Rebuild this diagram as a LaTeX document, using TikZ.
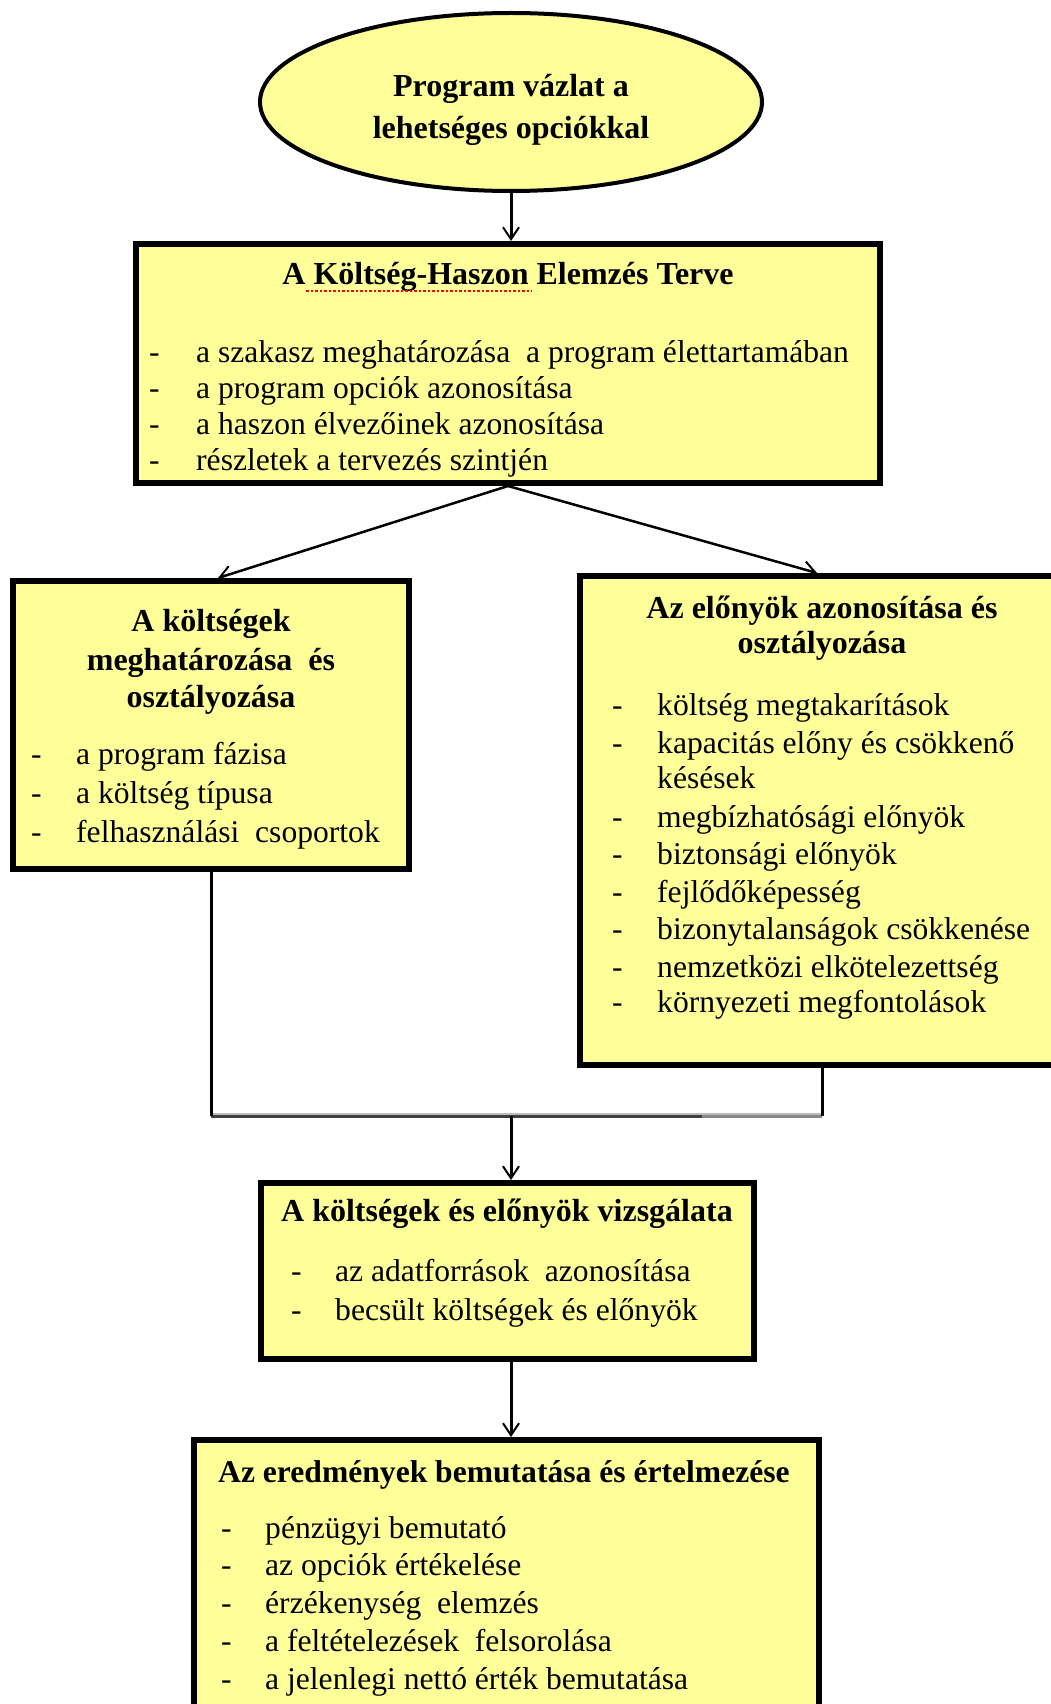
\documentclass[tikz,border=0pt]{standalone}
\usepackage{fontspec}
\setmainfont{Liberation Serif}
\usetikzlibrary{arrows.meta,shapes.geometric}
\definecolor{boxyellow}{HTML}{FFFF99}
\definecolor{lineshade}{HTML}{404040}
\definecolor{linelight}{HTML}{888888}
\definecolor{lineshadow}{HTML}{BBBBBB}
\begin{document}
\begin{tikzpicture}[x=1pt,y=-1pt,
  boxstyle/.style={draw=black, line width=6pt, fill=boxyellow, rectangle, inner sep=0pt},
  ellstyle/.style={draw=black, line width=4pt, fill=boxyellow, ellipse, inner sep=0pt},
  txt/.style={anchor=base west, inner sep=0pt, font=\fontsize{31.6}{36}\selectfont},
  ttl/.style={anchor=base, inner sep=0pt, font=\fontsize{32}{36}\selectfont\bfseries},
  ttlw/.style={anchor=base west, inner sep=0pt, font=\fontsize{32}{36}\selectfont\bfseries},
  conn/.style={line width=3pt, draw=black},
  arr/.style={conn, -{Straight Barb[length=12pt,width=16pt,line width=2pt]}},
]
\clip (0,0) rectangle (1051,1704);
\fill[white] (0,0) rectangle (1051,1704);

% shapes
\node[ellstyle, minimum width=502pt, minimum height=178pt] (ell) at (511,102) {};
\node[boxstyle, minimum width=744pt, minimum height=239pt] (b1) at (508,363.5) {};
\node[boxstyle, minimum width=396pt, minimum height=288pt] (lb) at (211,725) {};
\node[boxstyle, minimum width=484pt, minimum height=489pt] (rb) at (822,820.5) {};
\node[boxstyle, minimum width=493pt, minimum height=176pt] (b4) at (507.5,1271) {};
\node[boxstyle, minimum width=625pt, minimum height=288pt] (b5) at (506.5,1584) {};

% connectors
\coordinate (jn) at (511,1116);
\coordinate (jm) at (702,1116);
\draw[arr] (ell.south) -- (ell.south |- b1.north);
\draw[arr, line width=2.5pt] (b1.south) -- ([xshift=7pt]lb.north);
\draw[arr, line width=2.5pt] (b1.south) -- ([xshift=-5pt]rb.north);
\draw[line width=2pt, lineshadow] ([yshift=2.5pt]lb.south |- jn) -- ([yshift=2.5pt]rb.south |- jn);
\draw[line width=3pt, lineshade] (lb.south |- jn) -- (jm);
\draw[line width=3pt, linelight] (jm) -- (rb.south |- jn);
\draw[conn] (lb.south) -- (lb.south |- jn);
\draw[conn] (rb.south) -- (rb.south |- jn);
\draw[arr] (jn) -- (jn |- b4.north);
\draw[arr] (b4.south -| jn) -- (jn |- b5.north);

% ellipse text
\node[ttl] (e1) at (511,97) {Program vázlat a};
\node[ttl] (e2) at (511,139) {lehetséges opciókkal};

% box 1
\node[ttl] (t1) at (508,284) {A Költség-Haszon Elemzés Terve};
\draw[red, line width=2.5pt, dash pattern=on 2.5pt off 2pt] (306,291) -- (532,291);
\foreach \t [count=\i] in {a szakasz meghatározása \ a program élettartamában,
  a program opciók azonosítása, a haszon élvezőinek azonosítása,
  részletek a tervezés szintjén} {
  \node[txt] (b1d\i) at (149,{362+36.1*(\i-1)}) {-};
  \node[txt] (b1l\i) at (196,{362+36.1*(\i-1)}) {\t};
}

% left box
\node[ttl] (lt1) at (211,631) {A költségek};
\node[ttl] (lt2) at (211,670) {meghatározása \ és};
\node[ttl] (lt3) at (211,707) {osztályozása};
\foreach \t [count=\i] in {a program fázisa, a költség típusa, felhasználási \ csoportok} {
  \node[txt] (lbd\i) at (31,{764+39*(\i-1)}) {-};
  \node[txt] (lbl\i) at (76,{764+39*(\i-1)}) {\t};
}

% right box
\node[ttl] (rt1) at (822,618) {Az előnyök azonosítása és};
\node[ttl] (rt2) at (822,653) {osztályozása};
\foreach \t/\y in {költség megtakarítások/715, kapacitás előny és csökkenő/753,
  megbízhatósági előnyök/827, biztonsági előnyök/864, fejlődőképesség/902,
  bizonytalanságok csökkenése/939, nemzetközi elkötelezettség/977,
  környezeti megfontolások/1012} {
  \node[txt] (rbd\y) at (612,\y) {-};
  \node[txt] (rbl\y) at (657,\y) {\t};
}
\node[txt] (rbl788) at (657,788) {késések};

% box 4
\node[ttlw] (t4) at (281,1221) {A költségek és előnyök vizsgálata};
\node[txt] (b4d1) at (291,1281) {-};
\node[txt] (b4l1) at (335,1281) {az adatforrások \ azonosítása};
\node[txt] (b4d2) at (291,1320) {-};
\node[txt] (b4l2) at (335,1320) {becsült költségek és előnyök};

% box 5
\node[ttlw, font=\fontsize{31.6}{36}\selectfont\bfseries] (t5) at (218,1482) {Az eredmények bemutatása és értelmezése};
\foreach \t [count=\i] in {pénzügyi bemutató, az opciók értékelése, érzékenység \ elemzés,
  a feltételezések \ felsorolása, a jelenlegi nettó érték bemutatása} {
  \node[txt] (b5d\i) at (221,{1538+37.8*(\i-1)}) {-};
  \node[txt] (b5l\i) at (265,{1538+37.8*(\i-1)}) {\t};
}
\end{tikzpicture}
\end{document}
